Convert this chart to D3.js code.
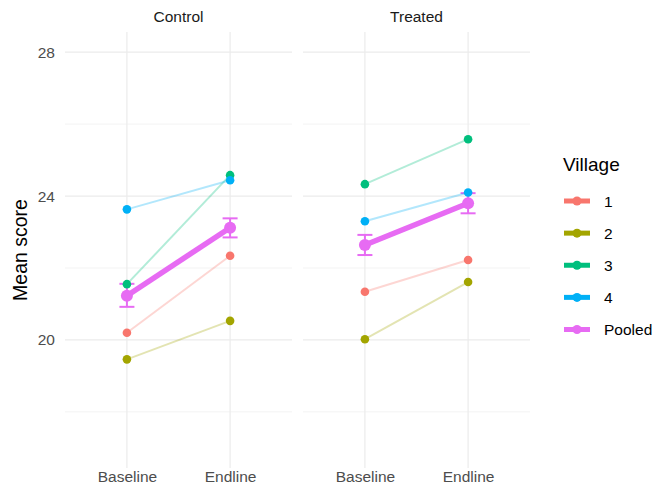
<!DOCTYPE html>
<html>
<head>
<meta charset="utf-8">
<script src="https://cdn.jsdelivr.net/npm/d3@7"></script>
<style>
  body { margin: 0; background: #fff; }
  svg { font-family: "Liberation Sans", Arial, sans-serif; }
</style>
</head>
<body>
<svg id="chart" width="654" height="491"></svg>
<script>
// data
const facets = ['Control', 'Treated'];
const waves = ['Baseline', 'Endline'];
const villages = ['1', '2', '3', '4'];
const villageColors = ['#F8766D', '#A3A500', '#00BF7D', '#00B0F6'];
const pooledColor = '#E76BF3';

// village means, one entry per village
const controlBaseline = [20.20, 19.46, 21.55, 23.63];
const controlEndline = [22.34, 20.53, 24.58, 24.44];
const treatedBaseline = [21.34, 20.02, 24.33, 23.30];
const treatedEndline = [22.22, 21.61, 25.58, 24.10];

// pooled mean and error bar, one entry per wave
const controlPooled = [21.23, 23.12];
const controlLow = [20.92, 22.85];
const controlHigh = [21.56, 23.38];
const treatedPooled = [22.64, 23.80];
const treatedLow = [22.36, 23.52];
const treatedHigh = [22.92, 24.08];

const majorTicks = [20, 24, 28];
const minorTicks = [18, 22, 26];

const facetData = {
  Control: { base: controlBaseline, end: controlEndline, pooled: controlPooled, low: controlLow, high: controlHigh },
  Treated: { base: treatedBaseline, end: treatedEndline, pooled: treatedPooled, low: treatedLow, high: treatedHigh }
};

const svg = d3.select('#chart');
const panelTop = 32, panelBottom = 468;
const panels = [[65, 292], [303, 530]];

const y = d3.scaleLinear().domain([16.44, 28.56]).range([panelBottom, panelTop]);

facets.forEach((f, i) => {
  const [x0, x1] = panels[i];
  const x = d3.scalePoint().domain(waves).range([x0, x1]).padding(0.6);
  const g = svg.append('g');
  const d = facetData[f];

  // grid
  g.selectAll('.minor').data(minorTicks).enter().append('line')
    .attr('x1', x0).attr('x2', x1)
    .attr('y1', v => y(v)).attr('y2', v => y(v))
    .attr('stroke', '#EBEBEB').attr('stroke-width', 0.6);
  g.selectAll('.major').data(majorTicks).enter().append('line')
    .attr('x1', x0).attr('x2', x1)
    .attr('y1', v => y(v)).attr('y2', v => y(v))
    .attr('stroke', '#EBEBEB').attr('stroke-width', 1.2);
  g.selectAll('.vgrid').data(waves).enter().append('line')
    .attr('x1', w => x(w)).attr('x2', w => x(w))
    .attr('y1', panelTop).attr('y2', panelBottom)
    .attr('stroke', '#EBEBEB').attr('stroke-width', 1.2);

  // strip
  svg.append('text')
    .attr('x', (x0 + x1) / 2).attr('y', 22)
    .attr('text-anchor', 'middle')
    .style('font-size', '15.5px').style('fill', '#1A1A1A')
    .text(f);

  // x axis labels
  const xa = svg.append('g').attr('transform', `translate(0,${panelBottom})`)
    .call(d3.axisBottom(x).tickSize(0).tickPadding(3));
  xa.select('.domain').remove();
  xa.selectAll('text').style('font-size', '15.5px').style('fill', '#4D4D4D')
    .style('font-family', '"Liberation Sans", Arial, sans-serif');

  // pooled error bars
  const eb = g.append('g');
  waves.forEach((w, k) => {
    const cx = x(w);
    eb.append('line').attr('x1', cx).attr('x2', cx)
      .attr('y1', y(d.low[k])).attr('y2', y(d.high[k]))
      .attr('stroke', pooledColor).attr('stroke-width', 2);
    [d.low[k], d.high[k]].forEach(v => {
      eb.append('line').attr('x1', cx - 7.5).attr('x2', cx + 7.5)
        .attr('y1', y(v)).attr('y2', y(v))
        .attr('stroke', pooledColor).attr('stroke-width', 2);
    });
  });

  // pooled line + points
  g.append('path')
    .datum(d.pooled)
    .attr('d', d3.line().x((v, k) => x(waves[k])).y(v => y(v)))
    .attr('fill', 'none').attr('stroke', pooledColor).attr('stroke-width', 5.5)
    .attr('stroke-linecap', 'butt');
  g.selectAll('.pp').data(d.pooled).enter().append('circle')
    .attr('cx', (v, k) => x(waves[k])).attr('cy', v => y(v))
    .attr('r', 6).attr('fill', pooledColor);

  // village lines
  villages.forEach((v, k) => {
    g.append('line')
      .attr('x1', x(waves[0])).attr('x2', x(waves[1]))
      .attr('y1', y(d.base[k])).attr('y2', y(d.end[k]))
      .attr('stroke', villageColors[k]).attr('stroke-opacity', 0.3).attr('stroke-width', 2);
  });
  // village points
  villages.forEach((v, k) => {
    [d.base[k], d.end[k]].forEach((val, j) => {
      g.append('circle')
        .attr('cx', x(waves[j])).attr('cy', y(val))
        .attr('r', 4.3).attr('fill', villageColors[k]);
    });
  });
});

// y axis labels
const ya = svg.append('g').attr('transform', `translate(${panels[0][0]},0)`)
  .call(d3.axisLeft(y).tickValues(majorTicks).tickSize(0).tickPadding(10));
ya.select('.domain').remove();
ya.selectAll('text').style('font-size', '15.5px').style('fill', '#4D4D4D')
  .style('font-family', '"Liberation Sans", Arial, sans-serif');

// y title
svg.append('text')
  .attr('transform', `translate(27,${(panelTop + panelBottom) / 2}) rotate(-90)`)
  .attr('text-anchor', 'middle')
  .style('font-size', '19.5px').style('fill', '#000')
  .text('Mean score');

// legend
const legend = svg.append('g');
legend.append('text').attr('x', 563).attr('y', 171)
  .style('font-size', '19px').style('fill', '#000').text('Village');
const legendItems = villages.concat(['Pooled']);
const legendColors = villageColors.concat([pooledColor]);
const keyY = d3.scalePoint().domain(legendItems).range([201, 329.5]);
legendItems.forEach((name, k) => {
  const ky = keyY(name);
  legend.append('line').attr('x1', 564).attr('x2', 590).attr('y1', ky).attr('y2', ky)
    .attr('stroke', legendColors[k]).attr('stroke-width', 5);
  legend.append('circle').attr('cx', 577).attr('cy', ky).attr('r', 4.5).attr('fill', legendColors[k]);
  legend.append('text').attr('x', 604).attr('y', ky).attr('dy', '0.36em')
    .style('font-size', '15.5px').style('fill', '#000').text(name);
});
</script>
</body>
</html>
